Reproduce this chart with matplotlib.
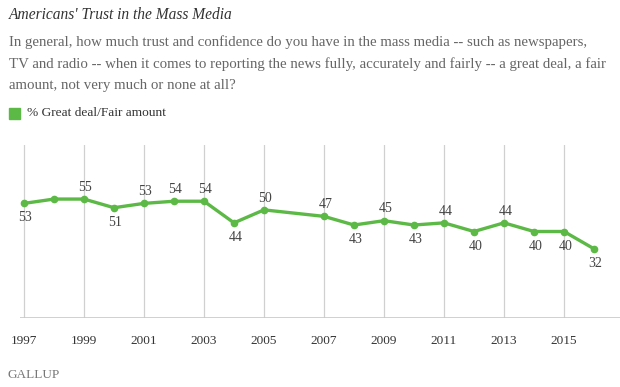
import matplotlib.pyplot as plt
import numpy as np

years = [1997, 1998, 1999, 2000, 2001, 2002, 2003, 2004, 2005, 2007,
         2008, 2009, 2010, 2011, 2012, 2013, 2014, 2015, 2016]
trust = [53, 55, 55, 51, 53, 54, 54, 44, 50, 47,
         43, 45, 43, 44, 40, 44, 40, 40, 32]
# which points get a label, and where (1 = above, -1 = below, 0 = none)
label_pos = [-1, 0, 1, -1, 1, 1, 1, -1, 1, 1,
             -1, 1, -1, 1, -1, 1, -1, -1, -1]
tick_years = list(range(1997, 2016, 2))

green = '#5cb946'
serif = ['Liberation Serif', 'DejaVu Serif']

fig = plt.figure(figsize=(6.2, 3.87), dpi=100)
ax = fig.add_axes([20 / 620, 1 - 318 / 387, 600 / 620, 173 / 387])

for yr in tick_years:
    ax.axvline(yr, color='#d0d0d0', lw=0.9, zorder=0)
ax.axhline(0, color='#c8c8c8', lw=1.2, zorder=1)

ax.plot(years, trust, color=green, lw=2.4, marker='o', ms=4.5, zorder=3)
for x, y, p in zip(years, trust, label_pos):
    if p == 0:
        continue
    off = 8.5 if p > 0 else -10.5
    ax.annotate(str(y), (x, y), xytext=(1, off), textcoords='offset points',
                ha='center', va='center', fontsize=10, color='#444444', family=serif)

ax.set_xlim(1997 - 4 / 30, 2016 + 26 / 30)
ax.set_ylim(0, 80)
ax.set_xticks(tick_years)
ax.set_xticklabels([str(t) for t in tick_years], family=serif, fontsize=9.5, color='#333333')
ax.tick_params(axis='x', length=0, pad=12)
ax.set_yticks([])
for s in ax.spines.values():
    s.set_visible(False)

fig.text(9 / 620, 1 - 15 / 387, "Americans' Trust in the Mass Media", family=serif,
         style='italic', fontsize=11.2, color='#333333', va='center')
subtitle = ("In general, how much trust and confidence do you have in the mass media -- such as newspapers,\n"
            "TV and radio -- when it comes to reporting the news fully, accurately and fairly -- a great deal, a fair\n"
            "amount, not very much or none at all?")
fig.text(9 / 620, 1 - 35 / 387, subtitle, family=serif, fontsize=10.7, color='#666666',
         va='top', linespacing=1.8)
fig.patches.append(plt.Rectangle((9 / 620, 1 - 119 / 387), 11 / 620, 11 / 387,
                                 transform=fig.transFigure, color=green))
fig.text(27 / 620, 1 - 113 / 387, '% Great deal/Fair amount', family=serif, fontsize=9.6,
         color='#333333', va='center')
fig.text(8 / 620, 1 - 375 / 387, 'GALLUP', family=serif, fontsize=9.5, color='#777777', va='center')

fig.savefig('out.png', dpi=100)
